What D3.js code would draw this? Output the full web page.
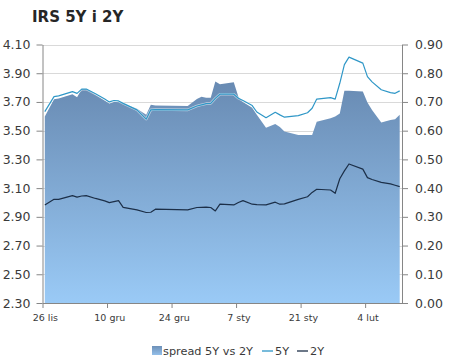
<!DOCTYPE html>
<html>
<head>
<meta charset="utf-8">
<script src="https://cdn.jsdelivr.net/npm/d3@7/dist/d3.min.js"></script>
<style>
  html, body { margin: 0; padding: 0; background: #ffffff; }
  svg { display: block; }
  text { font-family: "DejaVu Sans", Verdana, sans-serif; fill: #3a3a3a; }
</style>
</head>
<body>
<svg id="chart" width="450" height="363"></svg>
<script>
// ---- Data ----
const title = "IRS 5Y i 2Y";
const dates = [
  "2013-11-26","2013-11-28","2013-11-29","2013-12-02","2013-12-03","2013-12-04","2013-12-05",
  "2013-12-07","2013-12-09","2013-12-10","2013-12-11","2013-12-12","2013-12-13","2013-12-16",
  "2013-12-18","2013-12-19","2013-12-20","2013-12-27","2013-12-29","2013-12-30","2013-12-31",
  "2014-01-01","2014-01-02","2014-01-03","2014-01-06","2014-01-07","2014-01-08","2014-01-10",
  "2014-01-11","2014-01-13","2014-01-15","2014-01-16","2014-01-17","2014-01-20","2014-01-22",
  "2014-01-23","2014-01-24","2014-01-27","2014-01-28","2014-01-29","2014-01-30","2014-01-31",
  "2014-02-03","2014-02-04","2014-02-05","2014-02-07","2014-02-09","2014-02-10","2014-02-11"
];
const fiveY = [
  3.633, 3.737, 3.742, 3.772, 3.760, 3.789, 3.790,
  3.757, 3.720, 3.700, 3.710, 3.707, 3.690, 3.645,
  3.580, 3.645, 3.647, 3.645, 3.672, 3.680, 3.688,
  3.690, 3.725, 3.754, 3.754, 3.726, 3.710, 3.675,
  3.630, 3.590, 3.628, 3.610, 3.594, 3.605, 3.625,
  3.656, 3.720, 3.730, 3.720, 3.830, 3.960, 4.012,
  3.970, 3.876, 3.840, 3.785, 3.765, 3.760, 3.777
];
const twoY = [
  2.983, 3.022, 3.022, 3.048, 3.037, 3.045, 3.048,
  3.028, 3.011, 2.999, 3.006, 3.013, 2.966, 2.948,
  2.930, 2.932, 2.953, 2.948, 2.965, 2.966, 2.967,
  2.965, 2.941, 2.988, 2.983, 3.000, 3.013, 2.988,
  2.985, 2.983, 3.002, 2.988, 2.990, 3.022, 3.040,
  3.070, 3.092, 3.087, 3.064, 3.165, 3.220, 3.268,
  3.232, 3.173, 3.160, 3.140, 3.130, 3.120, 3.110
];
const spread = [
  0.649, 0.709, 0.712, 0.727, 0.716, 0.745, 0.745,
  0.725, 0.705, 0.695, 0.700, 0.700, 0.695, 0.676,
  0.655, 0.690, 0.688, 0.686, 0.710, 0.718, 0.715,
  0.715, 0.771, 0.762, 0.769, 0.718, 0.700, 0.680,
  0.655, 0.610, 0.623, 0.613, 0.597, 0.585, 0.585,
  0.585, 0.631, 0.643, 0.649, 0.660, 0.739, 0.739,
  0.736, 0.698, 0.672, 0.628, 0.637, 0.640, 0.655
];
const leftTicks = [2.30, 2.50, 2.70, 2.90, 3.10, 3.30, 3.50, 3.70, 3.90, 4.10];
const rightTicks = [0.00, 0.10, 0.20, 0.30, 0.40, 0.50, 0.60, 0.70, 0.80, 0.90];
const xTickDates = ["2013-11-26","2013-12-10","2013-12-24","2014-01-07","2014-01-21","2014-02-04"];
const xTickLabels = ["26 lis","10 gru","24 gru","7 sty","21 sty","4 lut"];
const xDomain = ["2013-11-26","2014-02-12"];
const seriesNames = ["spread 5Y vs 2Y", "5Y", "2Y"];

// ---- Setup ----
const parse = d3.timeParse("%Y-%m-%d");
const HALF_DAY = 12 * 3600 * 1000;
const svg = d3.select("#chart");
const plot = { left: 42.5, right: 402, top: 44.5, bottom: 303 };

const x = d3.scaleTime().domain(xDomain.map(parse)).range([plot.left, plot.right]);
const yL = d3.scaleLinear().domain([2.30, 4.10]).range([plot.bottom, plot.top]);
const yR = d3.scaleLinear().domain([0, 0.90]).range([plot.bottom, plot.top]);

const rows = dates.map((d, i) => ({
  t: new Date(parse(d).getTime() + HALF_DAY),
  f: fiveY[i], w: twoY[i], s: spread[i]
}));

// gradient
const defs = svg.append("defs");
const grad = defs.append("linearGradient").attr("id", "areaGrad")
  .attr("gradientUnits", "userSpaceOnUse")
  .attr("x1", 0).attr("x2", 0).attr("y1", 80).attr("y2", plot.bottom);
grad.append("stop").attr("offset", "0%").attr("stop-color", "#688ab2");
grad.append("stop").attr("offset", "100%").attr("stop-color", "#9acaf6");
const grad2 = defs.append("linearGradient").attr("id", "legGrad")
  .attr("x1", 0).attr("x2", 0).attr("y1", 0).attr("y2", 1);
grad2.append("stop").attr("offset", "0%").attr("stop-color", "#6d90b8");
grad2.append("stop").attr("offset", "100%").attr("stop-color", "#93bfe9");

// title
svg.append("text").attr("x", 32).attr("y", 22)
  .style("font-size", "15px").style("font-weight", "bold").style("fill", "#262626")
  .text(title);

// gridlines
svg.append("g").selectAll("line").data(leftTicks.slice(1)).join("line")
  .attr("x1", plot.left).attr("x2", plot.right)
  .attr("y1", d => Math.round(yL(d)) + 0.5).attr("y2", d => Math.round(yL(d)) + 0.5)
  .attr("stroke", "#d9d9d9").attr("stroke-width", 1);

// spread area (right axis)
const area = d3.area().x(d => x(d.t)).y0(plot.bottom).y1(d => yR(d.s));
svg.append("path").datum(rows).attr("d", area).attr("fill", "url(#areaGrad)");

// lines (left axis)
const line5 = d3.line().x(d => x(d.t)).y(d => yL(d.f));
const line2 = d3.line().x(d => x(d.t)).y(d => yL(d.w));
svg.append("path").datum(rows).attr("d", line5).attr("fill", "none")
  .attr("stroke", "#ffffff").attr("stroke-width", 2.6).attr("stroke-opacity", 0.55)
  .attr("stroke-linejoin", "round");
svg.append("path").datum(rows).attr("d", line5).attr("fill", "none")
  .attr("stroke", "#2f97c7").attr("stroke-width", 1.2).attr("stroke-linejoin", "round");
svg.append("path").datum(rows).attr("d", line2).attr("fill", "none")
  .attr("stroke", "#1c2f48").attr("stroke-width", 1.2).attr("stroke-linejoin", "round");

// axes
const axisColor = "#868686";
function styleAxis(g) {
  g.select(".domain").attr("stroke", axisColor);
  g.selectAll(".tick line").attr("stroke", axisColor);
  g.selectAll(".tick text").style("fill", "#3a3a3a");
}
const gL = svg.append("g").attr("transform", `translate(${plot.left},0)`)
  .call(d3.axisLeft(yL).tickValues(leftTicks).tickFormat(d3.format(".2f"))
    .tickSize(6).tickSizeOuter(0).tickPadding(6));
gL.selectAll("text").style("font-size", "12.5px");
styleAxis(gL);

const gR = svg.append("g").attr("transform", `translate(${plot.right},0)`)
  .call(d3.axisRight(yR).tickValues(rightTicks).tickFormat(d3.format(".2f"))
    .tickSize(6).tickSizeOuter(0).tickPadding(7));
gR.selectAll("text").style("font-size", "12.5px");
styleAxis(gR);

const halfPx = x(new Date(parse(xDomain[0]).getTime() + HALF_DAY)) - plot.left;
const gB = svg.append("g").attr("transform", `translate(0,${plot.bottom})`)
  .call(d3.axisBottom(x).tickValues(xTickDates.map(parse))
    .tickFormat((d, i) => xTickLabels[i]).tickSize(5).tickSizeOuter(0).tickPadding(6));
gB.selectAll("text").style("font-size", "9.5px").attr("x", halfPx);
styleAxis(gB);

// legend
const leg = svg.append("g").attr("transform", "translate(0,351)");
leg.append("rect").attr("x", 152).attr("y", -5).attr("width", 10).attr("height", 9)
  .attr("fill", "url(#legGrad)");
leg.append("text").attr("x", 163).attr("y", 4).style("font-size", "11.3px").text(seriesNames[0]);
leg.append("line").attr("x1", 262).attr("x2", 273).attr("y1", 0).attr("y2", 0)
  .attr("stroke", "#2f97c7").attr("stroke-width", 1.3);
leg.append("text").attr("x", 275).attr("y", 4).style("font-size", "11.3px").text(seriesNames[1]);
leg.append("line").attr("x1", 297).attr("x2", 308).attr("y1", 0).attr("y2", 0)
  .attr("stroke", "#1c2f48").attr("stroke-width", 1.3);
leg.append("text").attr("x", 310).attr("y", 4).style("font-size", "11.3px").text(seriesNames[2]);
</script>
</body>
</html>
